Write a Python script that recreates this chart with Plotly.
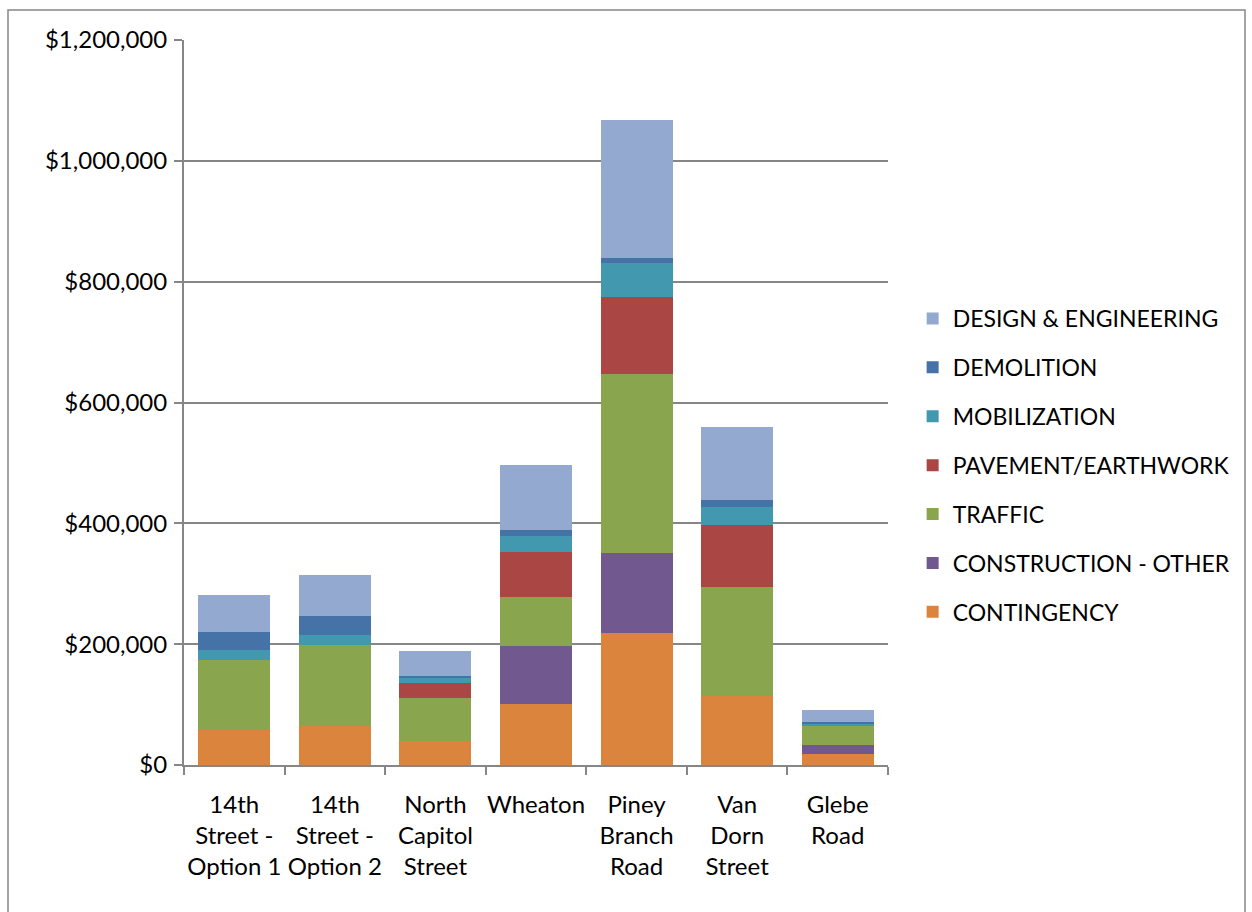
import plotly.graph_objects as go

# Corridor options (x-axis categories)
corridors = [
    "14th<br>Street -<br>Option 1",
    "14th<br>Street -<br>Option 2",
    "North<br>Capitol<br>Street",
    "Wheaton",
    "Piney<br>Branch<br>Road",
    "Van<br>Dorn<br>Street",
    "Glebe<br>Road",
]

# Cost components in dollars, bottom of the stack first
contingency = [57400, 64000, 39700, 101300, 217700, 113700, 18500]
construction_other = [0, 0, 0, 96500, 132400, 0, 14900]
traffic = [116700, 134400, 71500, 79800, 296700, 181300, 31900]
pavement_earthwork = [0, 0, 24300, 75500, 127400, 102000, 0]
mobilization = [15500, 17600, 9300, 25800, 57300, 29800, 3800]
demolition = [30700, 30800, 2200, 10600, 7800, 12600, 1700]
design_engineering = [60600, 67300, 41300, 106300, 227700, 119700, 20500]

y_ticks = [0, 200000, 400000, 600000, 800000, 1000000, 1200000]
y_tick_labels = ["$0", "$200,000", "$400,000", "$600,000",
                 "$800,000", "$1,000,000", "$1,200,000"]

series = [
    ("CONTINGENCY", contingency, "#DB843D"),
    ("CONSTRUCTION - OTHER", construction_other, "#71588F"),
    ("TRAFFIC", traffic, "#89A54E"),
    ("PAVEMENT/EARTHWORK", pavement_earthwork, "#AA4643"),
    ("MOBILIZATION", mobilization, "#4198AF"),
    ("DEMOLITION", demolition, "#4572A7"),
    ("DESIGN & ENGINEERING", design_engineering, "#93A9CF"),
]

FONT = "Lato, 'Open Sans', sans-serif"
GRAY = "#868686"

fig = go.Figure()
for i, (name, values, color) in enumerate(series):
    fig.add_trace(go.Bar(
        x=corridors,
        y=values,
        name=name,
        legendgroup=name,
        legendrank=len(series) - i,  # top of the stack listed first
        marker=dict(color=color, line=dict(width=0)),
    ))

fig.update_layout(
    barmode="stack",
    bargap=0.285,
    width=1252,
    height=912,
    margin=dict(l=184, r=364, t=40, b=147, autoexpand=False),
    paper_bgcolor="white",
    plot_bgcolor="white",
    font=dict(family=FONT, size=23, color="#000000"),
    legend=dict(
        traceorder="grouped",
        x=1.035,
        xanchor="left",
        y=0.6455,
        yanchor="top",
        font=dict(family=FONT, size=23, color="#000000"),
        tracegroupgap=16,
        bgcolor="rgba(0,0,0,0)",
    ),
    xaxis=dict(
        automargin=False,
        tickangle=0,
        showline=True,
        linecolor=GRAY,
        linewidth=2,
        ticks="outside",
        tickson="boundaries",
        ticklen=8,
        tickcolor=GRAY,
        tickwidth=2,
        ticklabelstandoff=17,
        tickfont=dict(family=FONT, size=24),
        showgrid=False,
    ),
    yaxis=dict(
        automargin=False,
        range=[0, 1200000],
        tickvals=y_ticks,
        ticktext=y_tick_labels,
        showline=True,
        linecolor=GRAY,
        linewidth=2,
        ticks="outside",
        ticklen=8,
        tickcolor=GRAY,
        tickwidth=2,
        ticklabelstandoff=2,
        showgrid=True,
        gridcolor=GRAY,
        gridwidth=1.5,
        zeroline=False,
        tickfont=dict(family=FONT, size=24),
    ),
)

# Thin frame around the whole chart area
fig.add_shape(
    type="rect",
    xref="paper", yref="paper",
    x0=(8 - 184) / 704, x1=(1245 - 184) / 704,
    y0=-0.3, y1=(765 - 10) / 725,
    line=dict(color=GRAY, width=1.5),
    layer="below",
)

fig.write_html("out.html")
